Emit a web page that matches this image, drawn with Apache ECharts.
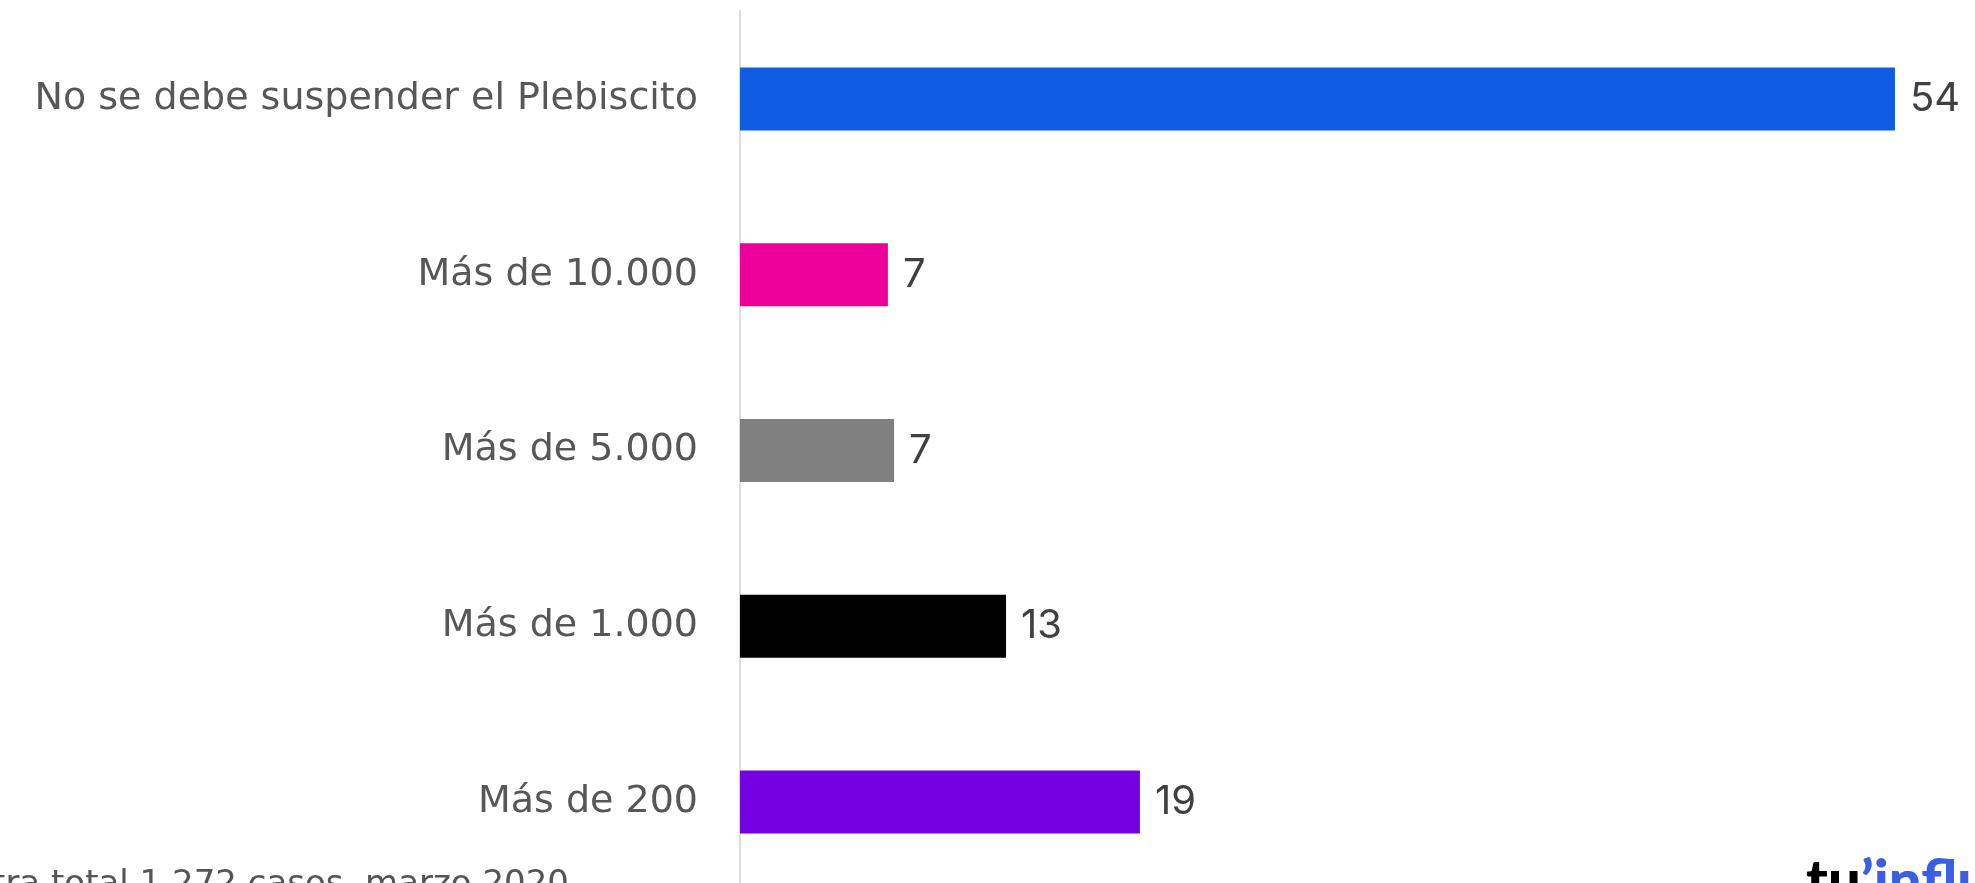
<!DOCTYPE html>
<html>
<head>
<meta charset="utf-8">
<script src="https://cdn.jsdelivr.net/npm/echarts@6/dist/echarts.min.js"></script>
<style>
  html, body { margin: 0; padding: 0; background: #fff; }
  #chart { width: 1975px; height: 883px; }
</style>
</head>
<body>
<div id="chart"></div>
<script>
// categories, top to bottom
const categories = [
    'No se debe suspender el Plebiscito',
    'Más de 10.000',
    'Más de 5.000',
    'Más de 1.000',
    'Más de 200'
];
// estimated bar lengths (labels show rounded values)
const values = [54.35, 6.96, 7.25, 12.52, 18.82];
const barColors = ['#105ce4', '#ec0099', '#808080', '#000000', '#7700e3'];

const footNote = 'Muestra total 1.272 casos, marzo 2020';

const chart = echarts.init(document.getElementById('chart'));

const option = {
    backgroundColor: '#ffffff',
    animation: false,
    grid: {
        left: 740,
        top: 11,
        width: 1275,
        height: 879,
        outerBoundsMode: 'none'
    },
    xAxis: {
        type: 'value',
        min: 0,
        max: 60,
        show: false
    },
    yAxis: {
        type: 'category',
        inverse: true,
        data: categories,
        axisLine: { lineStyle: { color: '#dddddd', width: 2 } },
        axisTick: { show: false },
        axisLabel: {
            margin: 42,
            fontSize: 38,
            fontFamily: 'DejaVu Sans',
            color: '#575757'
        }
    },
    series: [
        {
            type: 'bar',
            barWidth: 63,
            data: values.map((v, i) => ({ value: v, itemStyle: { color: barColors[i] } })),
            label: {
                show: true,
                position: 'right',
                distance: 15,
                fontSize: 40,
                fontFamily: 'Inter',
                color: '#404040',
                formatter: p => Math.round(p.value)
            }
        }
    ],
    graphic: [
        {
            type: 'text',
            x: 569,
            y: 868,
            style: {
                text: footNote,
                textAlign: 'right',
                textVerticalAlign: 'top',
                fontSize: 34,
                fontFamily: 'DejaVu Sans',
                fill: '#555555'
            }
        },
        {
            type: 'text',
            x: 1806,
            y: 853,
            style: {
                text: '{a|tu}{b|’influencia}',
                textVerticalAlign: 'top',
                rich: {
                    a: { fontSize: 58, fontWeight: 900, fontFamily: 'Lato', fill: '#000000', color: '#000000' },
                    b: { fontSize: 58, fontWeight: 900, fontFamily: 'Lato', fill: '#3a5fe0', color: '#3a5fe0' }
                }
            }
        }
    ]
};

chart.setOption(option);
</script>
</body>
</html>
